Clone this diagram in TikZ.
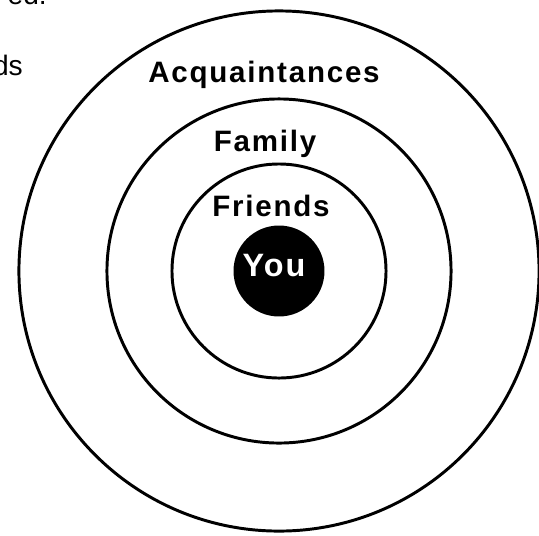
\documentclass[tikz,border=0pt]{standalone}
\usepackage{fontspec}
\setmainfont{Liberation Sans}
\newfontfamily\ringfont[LetterSpace=6]{Liberation Sans}
\usetikzlibrary{positioning}

\begin{document}
\begin{tikzpicture}[x=0.025cm, y=-0.025cm,
  ring/.style={draw, circle, line width=2.1pt, inner sep=0pt},
  tag/.style={anchor=base, inner sep=0pt, font=\ringfont\bfseries\fontsize{21}{24}\selectfont},
  cut/.style={anchor=base east, inner sep=0pt, font=\fontsize{20}{24}\selectfont}]
\useasboundingbox (0,0) rectangle (539,535);

\node (acq) [ring, minimum size=13cm] at (279,271) {};
\node (family) [ring, minimum size=8.6cm] at (279,271) {};
\node (friends) [ring, minimum size=5.35cm] at (279,271) {};
\node (you) [ring, fill=black, minimum size=2.2cm] at (279,271) {};

\node (acqtext) [tag] at (264,82) {Acquaintances};
\node (familytext) [tag] at (265,151) {Family};
\node (friendstext) [tag] at (271,216) {Friends};
\node (youtext) [tag, text=white, font=\ringfont\bfseries\fontsize{23}{26}\selectfont] at (274,276) {You};

% fragments of text cut off at the edge
\node (topcut) [cut] at (47,4) {ed.};
\node (leftcut) [cut] at (23,75) {ds};
\end{tikzpicture}
\end{document}
